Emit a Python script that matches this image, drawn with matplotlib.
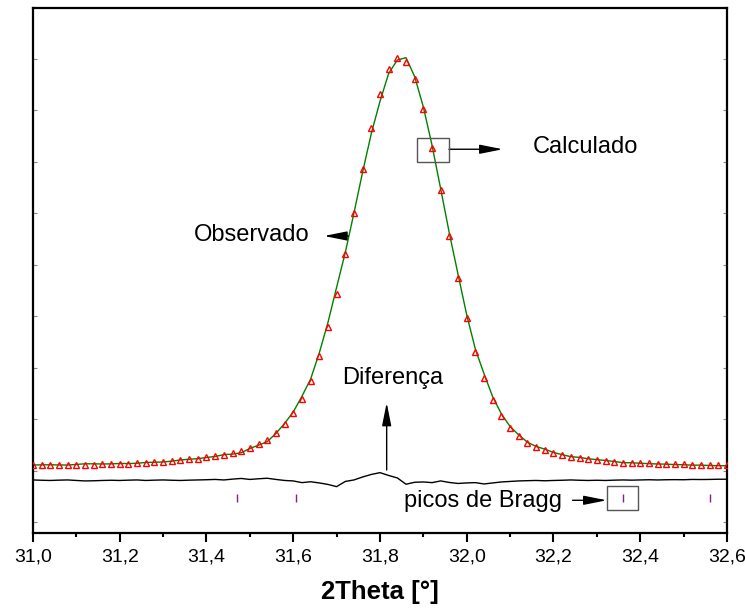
import numpy as np
import matplotlib.pyplot as plt
from matplotlib.patches import Rectangle
from matplotlib.ticker import FuncFormatter, MultipleLocator

plt.rcParams['font.family'] = ['Liberation Sans', 'DejaVu Sans']

# 2theta (passo 0,02)
two_theta = np.round(np.arange(31.0, 32.6001, 0.02), 2)

# intensidade observada
y_obs = [1117, 1113, 1111, 1113, 1115, 1117, 1121, 1123, 1126, 1132,
         1136, 1140, 1150, 1156, 1165, 1175, 1185, 1204, 1224, 1239,
         1266, 1292, 1317, 1344, 1383, 1447, 1524, 1602, 1738, 1913,
         2126, 2398, 2748, 3233, 3796, 4437, 5214, 6010, 6864, 7660,
         8320, 8806, 9019, 8942, 8612, 8029, 7272, 6456, 5563, 4748,
         3971, 3311, 2806, 2379, 2068, 1835, 1680, 1544, 1466, 1408,
         1350, 1311, 1278, 1258, 1227, 1214, 1194, 1181, 1161, 1156,
         1150, 1146, 1136, 1136, 1130, 1126, 1123, 1121, 1117, 1117, 1117]

# diferenca (obs - calc)
y_diff = [0, -6, -10, -4, 0, -10, -19, -16, -10, -6,
          -10, -4, 0, -10, -4, 0, -6, -10, -4, 0,
          4, 10, 0, 16, 29, 10, 23, 33, 10, -10,
          -19, -52, -35, -58, -87, -130, -29, 0, 58, 107,
          142, 87, 39, -83, -45, -39, -52, -19, -49, -68,
          -58, -52, -78, -58, -39, -29, -19, -14, -10, -16,
          -10, -6, 0, -6, -10, -6, -10, -4, 0, -4,
          0, 4, 0, 4, 6, 4, 10, 8, 10, 14, 14]

diff_offset = 826

# picos de Bragg
bragg_pos = [31.471, 31.606, 32.361, 32.56]
bragg_level = 476

y_obs = np.array(y_obs)
y_diff = np.array(y_diff)
y_calc = y_obs - y_diff

fig = plt.figure(figsize=(7.45, 6.09), dpi=100)
ax = fig.add_axes([0.0443, 0.1248, 0.9315, 0.8621])

ax.plot(two_theta, y_calc, color='#008000', lw=1.0, zorder=2)
ax.plot(two_theta, y_obs, ls='none', marker='^', ms=5, mfc='none',
        mec='#ff0000', mew=1.0, zorder=3)
ax.plot(two_theta, y_diff + diff_offset, color='k', lw=1.0, zorder=2)
ax.plot(bragg_pos, [bragg_level] * len(bragg_pos), ls='none', marker='|',
        ms=6, mew=1.0, color='#8b1a8b')

ax.set_xlim(31.0, 32.6)
ax.set_ylim(-204, 9990)

ax.xaxis.set_major_locator(MultipleLocator(0.2))
ax.xaxis.set_minor_locator(MultipleLocator(0.1))
ax.xaxis.set_major_formatter(FuncFormatter(lambda v, p: f'{v:.1f}'.replace('.', ',')))
ax.yaxis.set_major_locator(MultipleLocator(1000))
ax.tick_params(axis='x', which='major', direction='out', length=6.5, width=1.5,
               labelsize=14, pad=5, top=False)
ax.tick_params(axis='x', which='minor', direction='out', length=3, width=1.5, top=False)
ax.tick_params(axis='y', which='major', direction='in', length=3, width=0.8,
               left=True, right=True, labelleft=False, color='#888888')
for s in ax.spines.values():
    s.set_linewidth(1.6)

ax.set_xlabel('2Theta [°]', fontsize=18.5, fontweight='bold', labelpad=10)

arrow = dict(arrowstyle='-|>,head_length=1.0,head_width=0.2', color='k', lw=1.0,
             shrinkA=0, shrinkB=0, mutation_scale=14)

# Calculado
ax.add_patch(Rectangle((31.886, 6994), 0.073, 478, fill=False, ec='#555555', lw=1.0, zorder=4))
ax.annotate('', xy=(32.083, 7247), xytext=(31.959, 7247), arrowprops=arrow)
ax.text(32.153, 7282, 'Calculado', fontsize=17, ha='left', va='center')

# Observado
ax.annotate('', xy=(31.671, 5563), xytext=(31.727, 5563), arrowprops=arrow)
ax.text(31.6386, 5573, 'Observado', fontsize=17, ha='right', va='center')

# Diferenca
ax.annotate('', xy=(31.8154, 2326), xytext=(31.8154, 1020), arrowprops=arrow)
ax.text(31.83, 2806, 'Diferença', fontsize=17, ha='center', va='center')

# picos de Bragg
ax.add_patch(Rectangle((32.3233, 237), 0.0722, 478, fill=False, ec='#555555', lw=1.0, zorder=4))
ax.annotate('', xy=(32.3227, 431), xytext=(32.244, 431), arrowprops=arrow)
ax.text(32.2196, 418, 'picos de Bragg', fontsize=17, ha='right', va='center')

fig.savefig('out.png', dpi=100)
